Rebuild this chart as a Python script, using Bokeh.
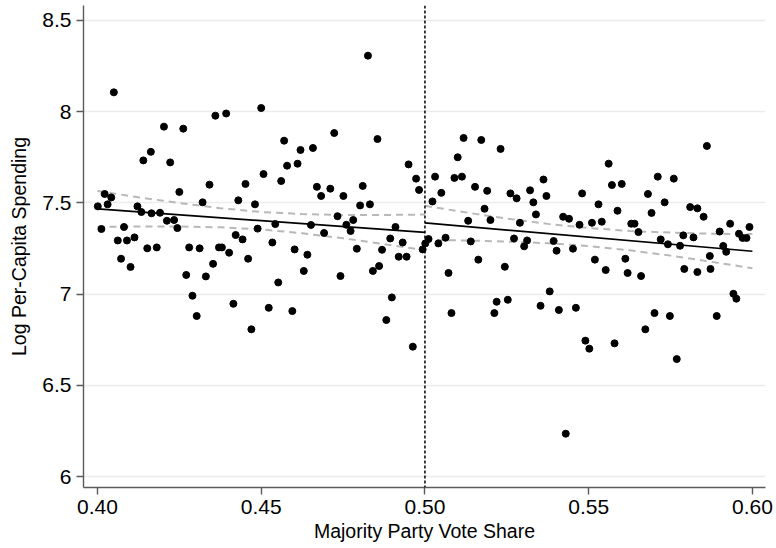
from bokeh.plotting import figure
from bokeh.models import FixedTicker, Span, Range1d
from bokeh.embed import file_html
from bokeh.resources import INLINE

# ---- data ----
left_x = [0.405, 0.450, 0.436, 0.4393, 0.4203, 0.4262, 0.4163, 0.414, 0.4222, 0.4507,
          0.425, 0.4342, 0.4452, 0.4022, 0.4042, 0.4001, 0.4031, 0.4122, 0.4321, 0.443,
          0.4481, 0.4134, 0.4165, 0.4191, 0.4212, 0.4234, 0.4012, 0.4081, 0.4244, 0.4489,
          0.4062, 0.409, 0.4113, 0.4152, 0.4181, 0.428, 0.4312, 0.4371, 0.438, 0.4402,
          0.4422, 0.4443, 0.446, 0.4072, 0.4101, 0.4353, 0.4271, 0.4331, 0.429, 0.4303,
          0.4415, 0.447, 0.4826, 0.4723, 0.4855, 0.457, 0.462, 0.4658, 0.4579, 0.4611,
          0.495, 0.4561, 0.4973, 0.4982, 0.467, 0.4683, 0.4711, 0.4751, 0.481, 0.4802,
          0.4832, 0.4733, 0.4543, 0.4652, 0.476, 0.4781, 0.4773, 0.4692, 0.491, 0.4894,
          0.4932, 0.4534, 0.4602, 0.4792, 0.4869, 0.4641, 0.492, 0.4944, 0.4993, 0.463,
          0.4742, 0.4841, 0.486, 0.4552, 0.4523, 0.4595, 0.4899, 0.4882, 0.4963]
left_y = [8.106, 8.02, 7.978, 7.99, 7.918, 7.907, 7.78, 7.733, 7.722, 7.658,
          7.56, 7.60, 7.604, 7.549, 7.53, 7.481, 7.492, 7.481, 7.503, 7.514,
          7.492, 7.45, 7.443, 7.446, 7.402, 7.406, 7.357, 7.368, 7.362, 7.359,
          7.294, 7.294, 7.311, 7.251, 7.256, 7.256, 7.251, 7.256, 7.256, 7.227,
          7.324, 7.30, 7.194, 7.194, 7.149, 7.166, 7.105, 7.097, 6.991, 6.880,
          6.947, 6.807, 8.307, 7.883, 7.85, 7.841, 7.79, 7.801, 7.704, 7.715,
          7.711, 7.62, 7.633, 7.571, 7.588, 7.538, 7.578, 7.538, 7.593, 7.486,
          7.492, 7.427, 7.384, 7.379, 7.38, 7.406, 7.346, 7.335, 7.368, 7.305,
          7.283, 7.283, 7.245, 7.249, 7.243, 7.216, 7.205, 7.205, 7.245, 7.127,
          7.099, 7.127, 7.154, 7.064, 6.925, 6.907, 6.982, 6.858, 6.712]

right_x = [0.5001, 0.5011, 0.5041, 0.5063, 0.5072, 0.5081, 0.5132, 0.5182, 0.52, 0.514,
           0.5163, 0.5244, 0.5219, 0.5212, 0.5253, 0.5272, 0.5303, 0.5312, 0.529, 0.5339,
           0.5422, 0.544, 0.5472, 0.551, 0.5393, 0.5402, 0.5452, 0.5519, 0.5381, 0.5353,
           0.5409, 0.5461, 0.549, 0.5502, 0.5118, 0.5172, 0.5231, 0.51, 0.5031, 0.509,
           0.5113, 0.5362, 0.505, 0.5153, 0.519, 0.5261, 0.528, 0.5321, 0.5371, 0.548,
           0.5023, 0.5331, 0.5861, 0.5561, 0.5711, 0.576, 0.5571, 0.5601, 0.5681, 0.553,
           0.5588, 0.5732, 0.5692, 0.581, 0.5832, 0.5851, 0.554, 0.563, 0.564, 0.5652,
           0.5932, 0.5991, 0.59, 0.5959, 0.597, 0.5982, 0.5789, 0.582, 0.572, 0.5742,
           0.5779, 0.5911, 0.592, 0.587, 0.5612, 0.5552, 0.5619, 0.566, 0.5792, 0.5832,
           0.5872, 0.5942, 0.5951, 0.5701, 0.5748, 0.5891, 0.5673, 0.5579, 0.5769, 0.543]
right_y = [7.278, 7.302, 7.278, 7.309, 7.116, 6.896, 7.402, 7.468, 7.406, 7.289,
           7.189, 7.15, 6.958, 6.896, 6.969, 7.305, 7.262, 7.294, 7.391, 7.437,
           7.424, 7.413, 7.38, 7.391, 7.291, 7.238, 7.249, 7.189, 7.015, 6.936,
           6.913, 6.925, 6.745, 6.701, 7.856, 7.845, 7.796, 7.75, 7.644, 7.637,
           7.644, 7.628, 7.555, 7.588, 7.566, 7.552, 7.525, 7.569, 7.538, 7.552,
           7.508, 7.503, 7.812, 7.715, 7.644, 7.633, 7.598, 7.604, 7.549, 7.492,
           7.457, 7.503, 7.445, 7.477, 7.47, 7.424, 7.397, 7.386, 7.386, 7.34,
           7.386, 7.368, 7.343, 7.331, 7.308, 7.308, 7.322, 7.311, 7.30, 7.273,
           7.265, 7.264, 7.232, 7.209, 7.194, 7.132, 7.116, 7.099, 7.138, 7.121,
           7.138, 7.002, 6.975, 6.896, 6.880, 6.880, 6.807, 6.73, 6.644, 6.235]

# fitted lines (end points) and confidence bands
left_fit_x = [0.40, 0.50]
left_fit_y = [7.467, 7.338]
right_fit_x = [0.50, 0.60]
right_fit_y = [7.390, 7.235]

left_band_x = [0.40, 0.4125, 0.425, 0.4375, 0.45, 0.4625, 0.475, 0.4875, 0.50]
left_band_hi = [7.565, 7.531, 7.499, 7.471, 7.450, 7.439, 7.434, 7.434, 7.436]
left_band_lo = [7.369, 7.371, 7.371, 7.366, 7.355, 7.333, 7.306, 7.274, 7.240]
right_band_x = [0.50, 0.5125, 0.525, 0.5375, 0.55, 0.5625, 0.575, 0.5875, 0.60]
right_band_hi = [7.484, 7.448, 7.414, 7.385, 7.362, 7.346, 7.337, 7.331, 7.329]
right_band_lo = [7.297, 7.294, 7.288, 7.279, 7.264, 7.240, 7.211, 7.177, 7.142]

cutoff = 0.50

x_ticks = [0.40, 0.45, 0.50, 0.55, 0.60]
x_tick_labels = ["0.40", "0.45", "0.50", "0.55", "0.60"]
y_ticks = [6, 6.5, 7, 7.5, 8, 8.5]
y_tick_labels = ["6", "6.5", "7", "7.5", "8", "8.5"]

FONT = "Liberation Sans"

p = figure(width=776, height=548, output_backend="svg", toolbar_location=None,
           x_range=Range1d(0.39573, 0.6040), y_range=Range1d(5.94, 8.582),
           min_border_left=83, min_border_right=11, min_border_top=5, min_border_bottom=61,
           background_fill_color="white", border_fill_color="white")
p.outline_line_color = None

# grid
p.xgrid.grid_line_color = None
p.ygrid.grid_line_color = "#ececec"
p.ygrid.grid_line_width = 1.5
p.ygrid.ticker = FixedTicker(ticks=y_ticks)

# axes
p.xaxis.ticker = FixedTicker(ticks=x_ticks)
p.xaxis.major_label_overrides = {t: l for t, l in zip(x_ticks, x_tick_labels)}
p.yaxis.ticker = FixedTicker(ticks=y_ticks)
p.yaxis.major_label_overrides = {t: l for t, l in zip(y_ticks, y_tick_labels)}
for ax in (p.xaxis, p.yaxis):
    ax.axis_line_color = "#5a5a5a"
    ax.axis_line_width = 1.4
    ax.major_tick_line_color = "#5a5a5a"
    ax.major_tick_line_width = 1.4
    ax.major_tick_out = 7
    ax.major_tick_in = 0
    ax.minor_tick_line_color = None
    ax.major_label_text_font = FONT
    ax.major_label_text_font_size = "21px"
    ax.major_label_text_color = "black"
    ax.axis_label_text_font = FONT
    ax.axis_label_text_font_size = "19.5px"
    ax.axis_label_text_font_style = "normal"
    ax.axis_label_text_color = "black"
p.xaxis.axis_label = "Majority Party Vote Share"
p.yaxis.axis_label = "Log Per-Capita Spending"
p.xaxis.major_label_standoff = 5
p.xaxis.axis_label_standoff = 3
p.yaxis.major_label_standoff = 5
p.yaxis.axis_label_standoff = 9

# confidence bands
for bx, by in ((left_band_x, left_band_hi), (left_band_x, left_band_lo),
               (right_band_x, right_band_hi), (right_band_x, right_band_lo)):
    p.line(bx, by, line_color="#b8b8b8", line_width=2, line_dash="7 5")

# fitted lines
p.line(left_fit_x, left_fit_y, line_color="black", line_width=1.7)
p.line(right_fit_x, right_fit_y, line_color="black", line_width=1.7)

# points
p.scatter(left_x, left_y, size=7, marker="circle", fill_color="black", line_color="black")
p.scatter(right_x, right_y, size=7, marker="circle", fill_color="black", line_color="black")

# cutoff
p.add_layout(Span(location=cutoff, dimension="height", line_color="black",
                  line_width=1.5, line_dash="3 2"))

open("out.html", "w").write(file_html(p, INLINE))
